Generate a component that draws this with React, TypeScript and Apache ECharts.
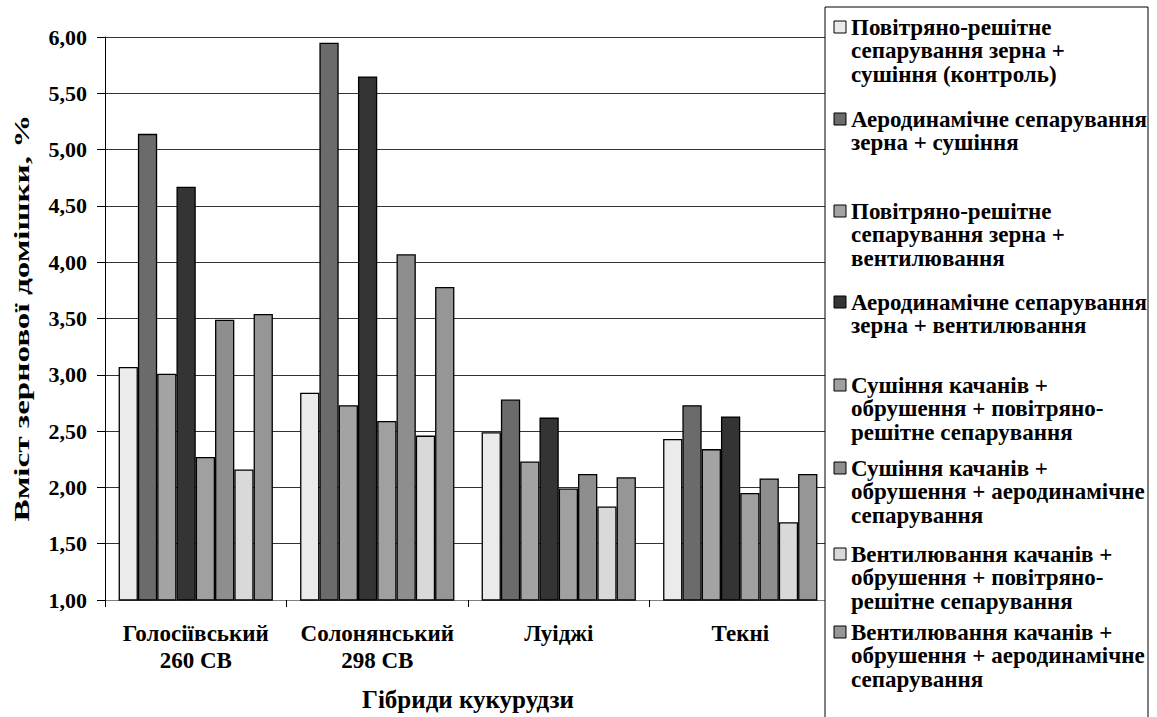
import React, { useEffect, useRef } from "react";
import * as echarts from "echarts";

const categories = ["Голосіївський\n260 СВ", "Солонянський\n298 СВ", "Луіджі", "Текні"];

const seriesNames = [
  "Повітряно-решітне\nсепарування зерна +\nсушіння (контроль)",
  "Аеродинамічне сепарування\nзерна + сушіння",
  "Повітряно-решітне\nсепарування зерна +\nвентилювання",
  "Аеродинамічне сепарування\nзерна + вентилювання",
  "Сушіння качанів +\nобрушення + повітряно-\nрешітне сепарування",
  "Сушіння качанів +\nобрушення + аеродинамічне\nсепарування",
  "Вентилювання качанів +\nобрушення + повітряно-\nрешітне сепарування",
  "Вентилювання качанів +\nобрушення + аеродинамічне\nсепарування",
];

const yAxisTitle = "Вміст зернової домішки, %";
const xAxisTitle = "Гібриди кукурудзи";

const s1 = [3.07, 2.84, 2.49, 2.43];
const s2 = [5.14, 5.95, 2.78, 2.73];
const s3 = [3.01, 2.73, 2.23, 2.34];
const s4 = [4.67, 5.65, 2.62, 2.63];
const s5 = [2.27, 2.59, 1.99, 1.95];
const s6 = [3.49, 4.07, 2.12, 2.08];
const s7 = [2.16, 2.46, 1.83, 1.69];
const s8 = [3.54, 3.78, 2.09, 2.12];
const seriesValues = [s1, s2, s3, s4, s5, s6, s7, s8];

const colors = ["#ebebeb", "#6b6b6b", "#a3a3a3", "#343434", "#a0a0a0", "#8e8e8e", "#d9d9d9", "#969696"];

const legendLineTops = [27, 119, 211, 302, 385, 468, 554, 632];

const FONT = "Liberation Serif";

export default function App() {
  const ref = useRef<HTMLDivElement>(null);
  useEffect(() => {
    if (!ref.current) return;
    const chart = echarts.init(ref.current, null, { renderer: "svg" });

    const graphics: any[] = [
      {
        type: "rect",
        z: 50,
        shape: { x: 825, y: 7, width: 323, height: 720 },
        style: { fill: "#ffffff", stroke: "#000000", lineWidth: 1 },
      },
      {
        type: "text",
        z: 51,
        x: 22,
        y: 318,
        rotation: Math.PI / 2,
        scaleX: 1.58,
        style: {
          text: yAxisTitle,
          fontFamily: FONT,
          fontWeight: "bold",
          fontSize: 21,
          fill: "#000",
          align: "center",
          verticalAlign: "middle",
        },
      },
    ];
    seriesNames.forEach((name, i) => {
      const y = legendLineTops[i];
      graphics.push({
        type: "rect",
        z: 51,
        shape: { x: 834, y: y - 6, width: 12, height: 12 },
        style: { fill: colors[i], stroke: "#000000", lineWidth: 1 },
      });
      graphics.push({
        type: "text",
        z: 51,
        x: 851,
        y: y - 11.75,
        style: {
          text: name,
          fontFamily: FONT,
          fontWeight: "bold",
          fontSize: 23,
          fill: "#000000",
          lineHeight: 23.5,
          verticalAlign: "top",
        },
      });
    });

    chart.setOption({
      animation: false,
      backgroundColor: "#ffffff",
      textStyle: { fontFamily: FONT },
      grid: { left: 105, right: 326, top: 37, bottom: 117, containLabel: false },
      xAxis: {
        type: "category",
        data: categories,
        boundaryGap: true,
        name: xAxisTitle,
        nameLocation: "middle",
        nameGap: 87,
        nameTextStyle: { fontFamily: FONT, fontWeight: "bold", fontSize: 25, color: "#000" },
        axisLine: { lineStyle: { color: "#808080", width: 1 } },
        axisTick: { show: true, length: 7, lineStyle: { color: "#000" } },
        axisLabel: {
          fontFamily: FONT,
          fontWeight: "bold",
          fontSize: 23,
          color: "#000",
          margin: 20,
          lineHeight: 27,
          interval: 0,
        },
      },
      yAxis: {
        type: "value",
        min: 1,
        max: 6,
        interval: 0.5,
        axisLine: { show: true, lineStyle: { color: "#000", width: 1 } },
        axisTick: { show: true, inside: false, length: 8, lineStyle: { color: "#000" } },
        axisLabel: {
          fontFamily: FONT,
          fontWeight: "bold",
          fontSize: 22,
          color: "#000",
          margin: 18,
          formatter: (v: number) => v.toFixed(2).replace(".", ","),
        },
        splitLine: { show: true, lineStyle: { color: "#333", width: 1 } },
      },
      series: seriesValues.map((vals, i) => ({
        name: seriesNames[i],
        type: "bar",
        data: vals,
        barGap: "0%",
        barCategoryGap: "15%",
        itemStyle: { color: colors[i], borderColor: "#000", borderWidth: 1.3 },
      })),
      graphic: graphics,
    });
    return () => chart.dispose();
  }, []);
  return (
    <div
      ref={ref}
      style={{ position: "fixed", left: 0, top: 0, width: 1157, height: 717, background: "#fff" }}
    />
  );
}
